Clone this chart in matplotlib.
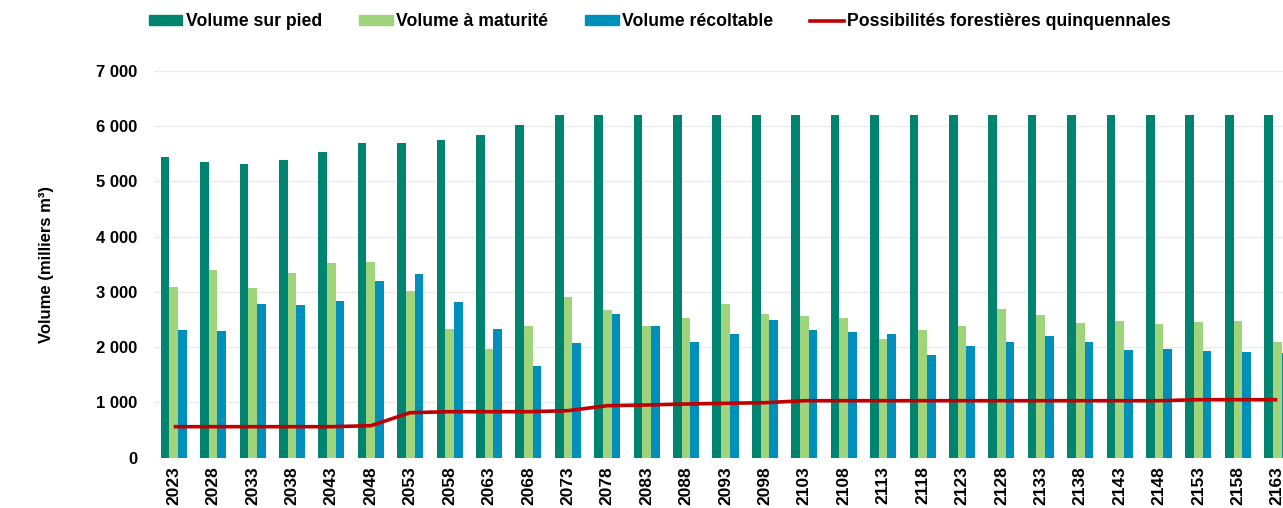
import matplotlib
matplotlib.use("Agg")
import matplotlib.pyplot as plt
import numpy as np
from matplotlib.patches import Patch
from matplotlib.lines import Line2D
from matplotlib.ticker import FuncFormatter

plt.rcParams['font.family'] = ['Liberation Sans', 'DejaVu Sans']
plt.rcParams['font.weight'] = 'bold'

# Données (milliers de m³)
annees = list(range(2023, 2164, 5))
vol_sur_pied = [5445, 5343, 5313, 5385, 5524, 5698, 5698, 5741, 5843, 6013,
                6190, 6190, 6190, 6190, 6190, 6190, 6190, 6190, 6190, 6190,
                6190, 6190, 6190, 6190, 6190, 6190, 6190, 6190, 6190]
vol_maturite = [3082, 3395, 3070, 3341, 3522, 3534, 3015, 2334, 1972, 2382,
                2901, 2666, 2382, 2527, 2780, 2605, 2563, 2527, 2142, 2310,
                2382, 2690, 2581, 2437, 2467, 2419, 2449, 2473, 2088]
vol_recoltable = [2310, 2286, 2780, 2757, 2840, 3202, 3323, 2811, 2328, 1664,
                  2080, 2600, 2382, 2099, 2232, 2491, 2310, 2274, 2238, 1858,
                  2021, 2093, 2196, 2093, 1948, 1966, 1925, 1912, 1900]
possibilites = [561, 561, 561, 561, 561, 579, 814, 832, 832, 832,
                850, 941, 953, 971, 984, 995, 1031, 1031, 1031, 1031,
                1031, 1031, 1031, 1031, 1031, 1031, 1049, 1049, 1049]

c_pied = '#008470'
c_mat = '#a0d47c'
c_rec = '#008fba'
c_poss = '#c00000'

fig = plt.figure(figsize=(12.83, 5.08), dpi=100)
ax = fig.add_axes([154 / 1283, 50.3 / 508, 1143 / 1283, 387 / 508])

x = np.arange(len(annees))
w = 0.22
ax.bar(x - w, vol_sur_pied, w, color=c_pied, zorder=2)
ax.bar(x, vol_maturite, w, color=c_mat, zorder=2)
ax.bar(x + w, vol_recoltable, w, color=c_rec, zorder=2)
ax.plot(x, possibilites, color=c_poss, lw=2.6, zorder=3, solid_capstyle='butt')

ax.set_xlim(-0.5, len(annees) - 0.5)
ax.set_ylim(0, 7000)
ax.set_yticks(range(0, 7001, 1000))
ax.yaxis.set_major_formatter(FuncFormatter(lambda v, p: f"{int(v):,}".replace(",", " ")))
ax.set_xticks(x)
ax.set_xticklabels([str(a) for a in annees], rotation=90)
ax.tick_params(axis='y', length=0, labelsize=12, pad=12)
ax.tick_params(axis='x', length=0, labelsize=12.5, pad=6)
ax.grid(axis='y', color='#ebebeb', lw=1, zorder=0)
for s in ax.spines.values():
    s.set_visible(False)

ax.set_ylabel('Volume (milliers m³)', fontsize=12, fontweight='bold', labelpad=30)

handles = [
    Patch(color=c_pied, label='Volume sur pied'),
    Patch(color=c_mat, label='Volume à maturité'),
    Patch(color=c_rec, label='Volume récoltable'),
    Line2D([], [], color=c_poss, lw=2.6, label='Possibilités forestières quinquennales'),
]
fig.legend(handles=handles, loc='center', bbox_to_anchor=(660 / 1283, 1 - 22 / 508),
           ncol=4, frameon=False, fontsize=12.7, handlelength=1.9, handleheight=0.45,
           handletextpad=0.2, columnspacing=2.1)

fig.savefig('out.png', dpi=100)
